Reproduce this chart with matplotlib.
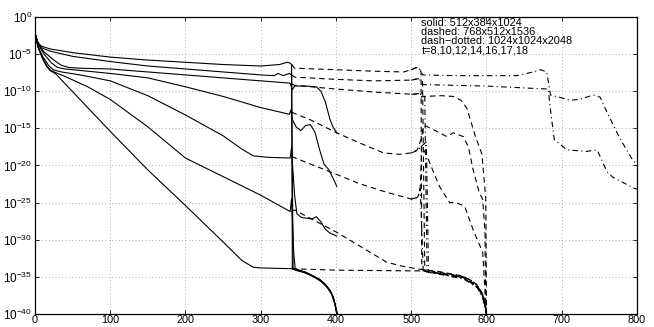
import numpy as np
import matplotlib
matplotlib.use("Agg")
import matplotlib.pyplot as plt
from matplotlib.ticker import FixedLocator, NullLocator

plt.rcParams["font.family"] = ["Liberation Sans", "DejaVu Sans"]
plt.rcParams["mathtext.fontset"] = "custom"
plt.rcParams["mathtext.rm"] = "Liberation Sans"
plt.rcParams["mathtext.it"] = "Liberation Sans:italic"
plt.rcParams["mathtext.bf"] = "Liberation Sans:bold"

# residual history, (iteration, log10 residual), curves listed top to bottom

# solid: 512x384x1024
solid_1 = [(0, -2.2), (3, -3.3), (8, -3.9), (20, -4.3), (50, -4.8), (100, -5.4), (150, -5.8),
           (200, -6.1), (250, -6.4), (300, -6.6), (325, -6.4), (335, -6.1), (339, -6.2), (341, -6.4),
           (342, -33.8), (348, -34.0), (358, -34.3), (368, -34.8), (378, -35.3), (386, -36.0),
           (392, -36.8), (396, -37.7), (399, -38.8), (401, -40.0)]
solid_2 = [(0, -2.2), (3, -3.4), (8, -4.1), (20, -4.6), (50, -5.3), (100, -6.0), (150, -6.6),
           (200, -7.0), (250, -7.4), (300, -7.8), (318, -7.9), (323, -7.6), (330, -7.9), (338, -7.6),
           (341, -7.8), (343, -33.9), (350, -34.1), (360, -34.4), (370, -34.9), (380, -35.5),
           (387, -36.2), (393, -37.0), (397, -38.0), (400, -39.2), (402, -40.0)]
solid_3 = [(0, -2.2), (5, -3.7), (12, -4.7), (25, -5.8), (35, -6.5), (45, -6.8), (60, -6.9),
           (100, -7.0), (150, -7.4), (200, -7.8), (250, -8.2), (300, -8.6), (339, -8.9), (342, -9.8),
           (345, -9.3), (360, -9.3), (374, -9.4), (380, -10.0), (386, -11.5), (392, -13.8),
           (396, -14.8), (401, -15.6)]
solid_4 = [(0, -2.2), (5, -3.8), (12, -5.0), (22, -6.2), (30, -6.8), (40, -7.0), (60, -7.2),
           (100, -7.6), (150, -8.2), (200, -9.4), (250, -10.7), (300, -12.2), (338, -13.1),
           (340, -12.5), (342, -13.8), (347, -14.8), (353, -15.3), (360, -14.6), (366, -14.5),
           (372, -15.5), (378, -17.8), (384, -19.8), (390, -20.5), (396, -21.7), (401, -22.8)]
solid_5 = [(0, -2.2), (4, -3.9), (10, -5.3), (18, -6.5), (24, -7.1), (35, -7.4), (60, -7.8),
           (100, -8.6), (150, -10.6), (200, -13.2), (250, -16.0), (275, -17.8), (290, -18.7),
           (310, -18.9), (339, -19.0), (341, -17.6), (342, -19.5), (345, -24.0), (348, -26.5),
           (354, -27.0), (368, -27.2), (374, -26.9), (380, -27.6), (386, -28.6), (392, -29.1),
           (401, -29.5)]
solid_6 = [(0, -2.2), (4, -4.0), (10, -5.5), (16, -6.6), (21, -7.2), (30, -7.6), (42, -8.1),
           (70, -9.4), (100, -11.1), (150, -14.8), (200, -19.0), (250, -21.5), (300, -24.0),
           (339, -26.2), (341, -24.5), (342, -27.0), (344, -32.0), (346, -34.1), (355, -34.3),
           (365, -34.7), (375, -35.2), (384, -35.9), (391, -36.7), (396, -37.6), (399, -38.7),
           (401, -39.8)]
solid_7 = [(0, -2.2), (4, -4.1), (10, -5.6), (15, -6.6), (20, -7.2), (28, -7.7), (42, -9.2),
           (70, -12.2), (100, -15.4), (150, -20.6), (200, -25.4), (250, -30.3), (275, -32.8),
           (290, -33.7), (300, -33.8), (341, -33.9), (350, -34.2), (360, -34.5), (370, -35.0),
           (380, -35.6), (388, -36.4), (394, -37.3), (398, -38.5), (400, -39.5), (401, -40.0)]

# dashed: 768x512x1536 (same as solid up to the restart at 341)
dashed_1 = [(341, -6.4), (345, -6.9), (400, -7.1), (450, -7.3), (490, -7.4), (500, -7.1),
            (507, -6.8), (511, -7.0), (513, -7.4), (514, -34.0), (520, -34.1), (538, -34.4),
            (555, -34.7), (569, -35.0), (580, -35.5), (587, -36.1), (592, -36.8), (595, -37.4),
            (598, -38.5), (600, -40.0)]
dashed_2 = [(341, -7.8), (345, -8.1), (400, -8.4), (450, -8.6), (500, -8.5), (510, -8.3),
            (515, -8.7), (518, -34.2), (538, -34.6), (569, -35.1), (587, -36.3), (595, -37.6),
            (598, -38.8), (600, -40.0)]
dashed_3 = [(341, -9.0), (345, -9.2), (400, -9.7), (450, -10.1), (500, -10.4), (512, -10.3),
            (514, -10.8), (516, -10.7), (540, -10.6), (556, -10.7), (566, -11.2), (574, -12.3),
            (585, -16.0), (594, -18.5), (599, -24.5), (600, -40.0)]
dashed_4 = [(341, -12.8), (345, -13.0), (365, -13.8), (401, -15.6), (430, -16.9), (463, -18.3),
            (485, -18.5), (500, -18.3), (508, -17.9), (513, -16.5), (516, -14.8), (520, -14.7),
            (538, -15.6), (547, -16.1), (556, -15.6), (569, -16.1), (576, -17.5), (582, -20.5),
            (590, -23.5), (595, -24.6), (598, -29.0), (599, -40.0)]
dashed_5 = [(341, -18.8), (396, -21.0), (430, -22.4), (467, -23.6), (503, -24.6), (509, -24.2),
            (512, -23.0), (514, -17.5), (520, -18.5), (530, -21.0), (538, -22.9), (551, -25.0),
            (560, -25.0), (571, -25.5), (582, -28.6), (595, -31.7), (598, -37.0), (599, -40.0)]
dashed_6 = [(341, -26.2), (345, -26.0), (401, -29.0), (467, -33.0), (485, -33.5), (512, -34.0),
            (538, -34.3), (569, -34.9), (587, -36.0), (595, -37.3), (598, -38.3), (600, -39.8)]
dashed_7 = [(341, -33.9), (400, -34.1), (513, -34.2), (540, -34.5), (570, -35.0), (588, -36.2),
            (595, -37.5), (598, -38.6), (600, -40.0)]

# dash-dotted: 1024x1024x2048 (same as dashed up to about 500)
dashdot_1 = [(500, -7.1), (507, -6.8), (511, -7.0), (513, -7.3), (515, -7.8), (560, -7.9),
             (640, -7.9), (662, -7.4), (672, -7.1), (680, -7.4), (682, -8.6), (685, -10.5),
             (711, -11.2), (724, -11.1), (742, -10.5), (751, -10.8), (760, -12.8), (777, -16.3),
             (795, -19.4), (800, -19.8)]
dashdot_2 = [(500, -8.5), (510, -8.3), (513, -8.7), (515, -9.1), (600, -9.3), (660, -9.6),
             (682, -9.7), (685, -12.5), (690, -16.5), (707, -17.9), (733, -18.1), (747, -17.9),
             (760, -20.8), (768, -21.6), (795, -23.0), (800, -23.2)]
dashdot_3 = [(500, -10.4), (512, -10.4), (518, -10.8), (521, -34.3), (540, -34.6), (570, -35.2),
             (588, -36.4), (595, -37.7), (599, -39.5), (600, -40.0)]
dashdot_4 = [(500, -18.3), (508, -18.0), (520, -16.8), (523, -34.4), (540, -34.7), (570, -35.3),
             (588, -36.5), (595, -37.8), (599, -39.6), (600, -40.0)]
dashdot_5 = [(500, -24.5), (509, -24.3), (512, -23.1), (516, -34.3), (540, -34.6), (570, -35.1),
             (588, -36.3), (595, -37.6), (599, -39.4), (600, -40.0)]

legend_lines = ["solid: 512x384x1024", "dashed: 768x512x1536",
                "dash\u2212dotted: 1024x1024x2048", "t=8,10,12,14,16,17,18"]

y_exponents = [0, -5, -10, -15, -20, -25, -30, -35, -40]
x_ticks = [0, 100, 200, 300, 400, 500, 600, 700, 800]


def draw(ax, curve, style):
    xs, logs = zip(*curve)
    ax.semilogy(xs, 10.0 ** np.array(logs), color="k", lw=0.8, **style)


fig = plt.figure(figsize=(6.54, 3.27), dpi=100)
ax = fig.add_axes([0.0535, 0.0398, 0.9205, 0.9082])

for c in [solid_1, solid_2, solid_3, solid_4, solid_5, solid_6, solid_7]:
    draw(ax, c, {"linestyle": "-"})
for c in [dashed_1, dashed_2, dashed_3, dashed_4, dashed_5, dashed_6, dashed_7]:
    draw(ax, c, {"linestyle": (0, (5, 3.5))})
for c in [dashdot_1, dashdot_2, dashdot_3, dashdot_4, dashdot_5]:
    draw(ax, c, {"linestyle": (0, (5, 3, 1, 3))})

ax.set_xlim(0, 800)
ax.set_ylim(1e-40, 1e0)
ax.xaxis.set_major_locator(FixedLocator(x_ticks))
ax.yaxis.set_major_locator(FixedLocator([10.0 ** e for e in y_exponents]))
ax.yaxis.set_minor_locator(NullLocator())
ax.set_yticklabels([r"$10^{%d}$" % e for e in y_exponents])
ax.tick_params(direction="in", length=3, width=0.6, top=True, right=True,
               labelsize=8.5, pad=2)
ax.tick_params(axis="x", labelsize=7.8, pad=1)
ax.grid(True, linestyle=(0, (1, 3)), color="0.6", linewidth=0.6)
for s in ax.spines.values():
    s.set_linewidth(0.9)

ax.text(0.642, 0.995, "\n".join(legend_lines), transform=ax.transAxes,
        fontsize=7.9, va="top", ha="left", linespacing=0.86)

fig.savefig("out.png", dpi=100)
